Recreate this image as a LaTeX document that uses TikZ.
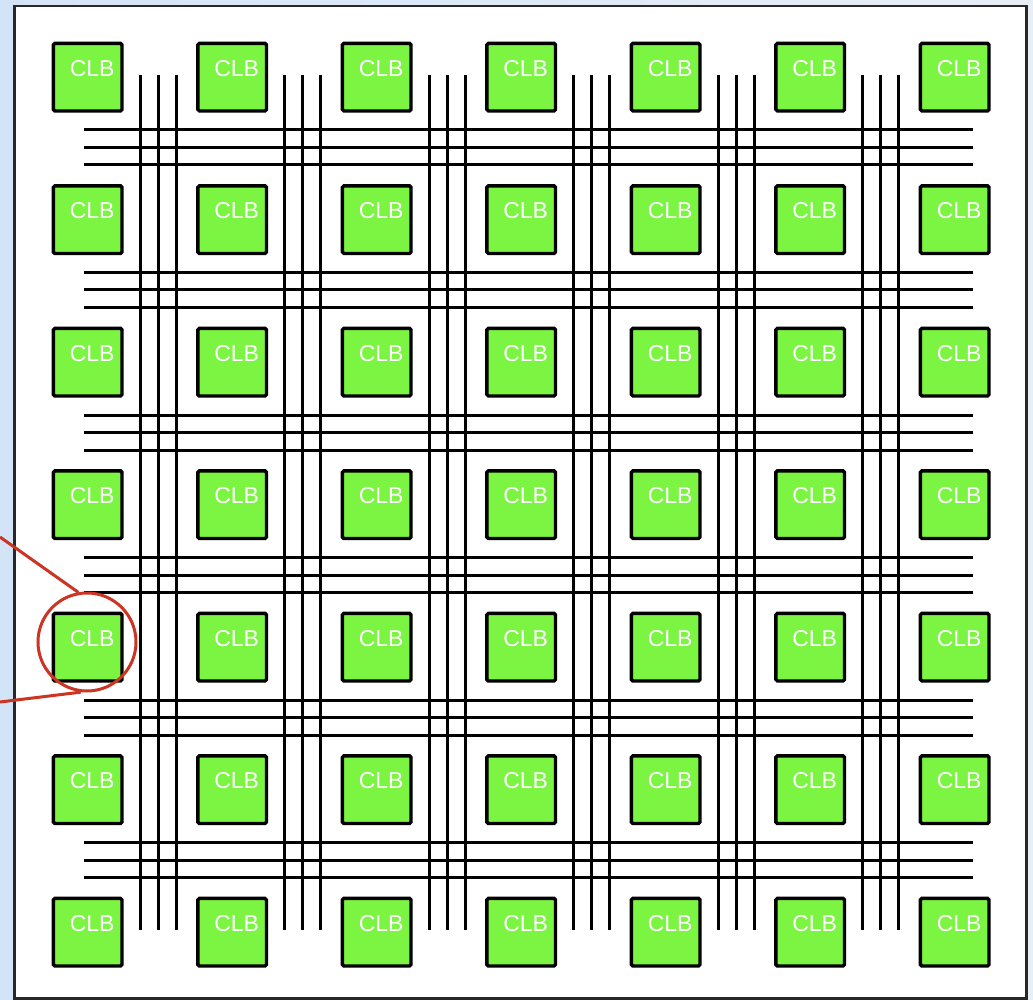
\documentclass[tikz,border=0pt]{standalone}
\usepackage{fontspec}
\setmainfont{Liberation Sans}
\definecolor{clbgreen}{RGB}{124,244,66}
\definecolor{bgblue}{RGB}{212,228,247}
\definecolor{bgblue2}{RGB}{232,238,246}
\definecolor{hilite}{RGB}{204,52,36}
\definecolor{framegray}{RGB}{40,40,40}
\tikzset{
  clb/.style={draw=black, line width=3.4pt, fill=clbgreen, rounded corners=1.5pt,
    minimum width=68.6pt, minimum height=67.6pt, inner sep=0pt, anchor=north west},
  clbtext/.style={text=white, font=\fontsize{23}{23}\selectfont, inner sep=0pt},
  wire/.style={draw=black, line width=3pt},
  circ/.style={draw=hilite, line width=3pt, circle, minimum size=98pt, inner sep=0pt},
  callout/.style={draw=hilite, line width=3pt}
}
\begin{document}
\begin{tikzpicture}[x=1pt,y=-1pt]
\useasboundingbox (0,0) rectangle (1033,1000);
\shade[left color=bgblue, right color=bgblue2] (0,0) rectangle (1033,1000);
\node[draw=framegray, line width=2.5pt, fill=white, inner sep=0pt, minimum width=1012pt, minimum height=992pt, anchor=north west] (frame) at (13,5) {};
% horizontal routing channels
\foreach \k in {0,...,5} {
  \foreach \d in {0,17.5,35} {
    \draw[wire] (84,{130+142.5*\k+\d}) -- (973,{130+142.5*\k+\d});
  }
}
% vertical routing channels
\foreach \k in {0,...,5} {
  \foreach \d in {0,18,36} {
    \draw[wire] ({140+144.5*\k+\d},75) -- ({140+144.5*\k+\d},930);
  }
}
% CLBs
\foreach \i in {0,...,6} {
  \foreach \j in {0,...,6} {
    \node[clb, label={[clbtext, xshift=4.5pt, yshift=9pt]center:CLB}] (clb-\i-\j) at ({51.7+144.5*\i},{41.7+142.5*\j}) {};
  }
}
% highlight
\node[circ] (hl) at (87,642) {};
\coordinate (ca) at (0,537);
\coordinate (cb) at (0,702);
\draw[callout] (ca) -- (hl.100);
\draw[callout] (cb) -- (hl.263);
\end{tikzpicture}
\end{document}
